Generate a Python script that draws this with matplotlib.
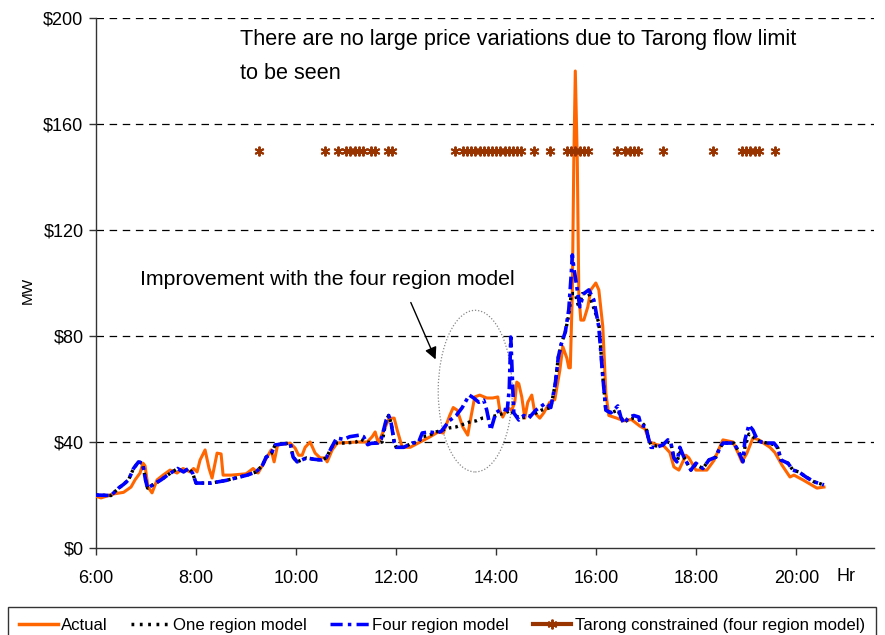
import matplotlib
matplotlib.use("Agg")
import matplotlib.pyplot as plt
from matplotlib.lines import Line2D
from matplotlib.patches import Ellipse

plt.rcParams['font.family'] = ['Liberation Sans', 'DejaVu Sans']

# ---- data (hours of day, $/MWh) ----
actual_t = [6.00, 6.10, 6.35, 6.55, 6.70, 6.78, 6.88, 6.94, 6.98, 7.04, 7.12, 7.22, 7.34, 7.48, 7.62,
            7.74, 7.88, 7.95, 8.02, 8.08, 8.18, 8.26, 8.32, 8.42, 8.50, 8.54, 8.70, 9.00, 9.14, 9.24,
            9.32, 9.50, 9.56, 9.63, 9.88, 9.98, 10.05, 10.12, 10.18, 10.28, 10.38, 10.48, 10.58, 10.62,
            10.72, 10.82, 11.22, 11.42, 11.52, 11.58, 11.64, 11.72, 11.86, 11.96, 12.02, 12.12, 12.28,
            12.48, 12.68, 12.84, 12.94, 13.07, 13.14, 13.22, 13.33, 13.43, 13.50, 13.57, 13.67, 13.81,
            13.93, 14.03, 14.07, 14.13, 14.22, 14.31, 14.37, 14.41, 14.45, 14.51, 14.57, 14.63, 14.71,
            14.77, 14.87, 14.95, 15.07, 15.17, 15.27, 15.33, 15.41, 15.45, 15.48, 15.52, 15.55, 15.58,
            15.62, 15.65, 15.69, 15.75, 15.83, 15.89, 15.99, 16.05, 16.13, 16.19, 16.25, 16.41, 16.55,
            16.70, 16.87, 16.97, 17.07, 17.20, 17.35, 17.47, 17.55, 17.65, 17.79, 17.85, 17.99, 18.21,
            18.35, 18.53, 18.73, 18.83, 18.91, 19.01, 19.13, 19.23, 19.47, 19.57, 19.71, 19.87, 19.95,
            20.13, 20.41, 20.55]
actual_v = [19.5, 18.9, 20.4, 21.0, 23.0, 25.7, 28.3, 32.0, 31.0, 23.0, 20.8, 25.7, 27.5, 29.4, 28.3,
            30.0, 28.7, 30.0, 28.7, 33.2, 37.0, 30.0, 26.4, 35.8, 35.5, 27.5, 27.5, 28.0, 30.0, 28.3,
            31.0, 37.0, 32.5, 38.9, 39.6, 37.7, 35.0, 35.0, 38.0, 40.0, 35.8, 34.0, 34.0, 32.5,
            37.0, 39.6, 40.0, 40.0, 42.0, 43.8, 39.6, 43.0, 49.0, 49.0, 44.5, 38.0, 38.0,
            40.0, 42.0, 43.8, 43.4, 50.0, 53.0, 52.0, 45.7, 42.6, 50.0, 57.0, 57.7, 56.6,
            56.6, 57.0, 52.0, 49.4, 53.0, 52.0, 55.0, 62.6, 62.0, 57.0, 49.0, 55.0, 57.7,
            51.0, 49.0, 51.0, 55.0, 56.0, 67.0, 76.0, 71.7, 68.0, 68.0, 96.0, 146.0, 180.0,
            146.0, 96.0, 86.0, 86.0, 91.0, 97.4, 100.0, 97.4, 83.4, 58.5, 50.0, 49.0, 48.0,
            48.5, 46.0, 45.0, 40.0, 39.0, 38.5, 36.0, 30.6, 29.4, 35.0, 34.0, 29.4, 29.4,
            33.0, 40.8, 40.0, 36.0, 32.5, 35.8, 41.5, 41.0, 38.0, 36.0, 31.3, 26.8, 27.5,
            25.7, 22.6, 23.0]

one_t = [6.00, 6.30, 6.45, 6.55, 6.65, 6.75, 6.85, 6.93, 6.99, 7.03, 7.15, 7.30, 7.43, 7.63, 7.75,
         7.85, 7.93, 8.00, 8.30, 8.60, 9.02, 9.20, 9.33, 9.40, 9.50, 9.58, 9.88, 9.94, 10.02, 10.21,
         10.35, 10.51, 10.60, 10.71, 10.80, 11.00, 11.20, 11.30, 11.40, 11.60, 11.72, 11.80, 11.85,
         11.90, 11.96, 12.00, 12.15, 12.32, 12.45, 12.52, 12.66, 12.80, 13.06, 13.20, 13.46, 13.60,
         13.72, 13.90, 14.00, 14.18, 14.30, 14.36, 14.50, 14.70, 14.90, 15.09, 15.18, 15.24, 15.30,
         15.38, 15.45, 15.50, 15.58, 15.65, 15.72, 15.85, 16.05, 16.13, 16.19, 16.29, 16.43, 16.49,
         16.55, 16.65, 16.75, 16.85, 16.99, 17.05, 17.09, 17.20, 17.33, 17.43, 17.49, 17.55, 17.61,
         17.67, 17.75, 17.89, 17.99, 18.13, 18.25, 18.39, 18.45, 18.53, 18.75, 18.85, 18.93, 18.97,
         19.05, 19.13, 19.19, 19.29, 19.43, 19.55, 19.63, 19.69, 19.83, 19.93, 20.05, 20.19, 20.35,
         20.55]
one_v = [20.0, 19.8, 22.6, 24.0, 25.7, 30.0, 32.5, 32.0, 25.7, 22.6, 24.0, 25.7, 27.5, 30.0, 28.7,
         30.0, 28.3, 24.5, 24.5, 25.5, 27.5, 28.7, 31.3, 34.3, 35.5, 38.9, 39.6, 34.3, 32.5, 34.0,
         33.5, 33.2, 34.0, 38.0, 39.6, 39.6, 40.0, 41.0, 40.0, 39.6, 40.0, 48.3, 50.0,
         47.0, 40.0, 38.0, 38.0, 39.6, 40.0, 42.0, 42.5, 43.8, 45.3, 45.7, 47.5, 48.0,
         49.0, 49.4, 50.0, 51.0, 52.0, 50.0, 49.0, 50.0, 52.0, 53.0, 62.0, 72.0, 77.0,
         81.5, 88.0, 96.0, 96.0, 90.6, 96.0, 96.0, 85.0, 64.5, 52.0, 51.0, 52.0, 49.4,
         47.5, 48.5, 49.0, 48.5, 45.7, 40.8, 39.0, 38.5, 38.9, 40.0, 39.6, 34.0, 32.5,
         36.0, 34.3, 29.4, 31.5, 30.0, 33.2, 34.3, 37.0, 39.6, 39.6, 36.2, 33.0, 38.0,
         43.0, 42.0, 41.0, 40.0, 39.6, 39.0, 37.7, 33.2, 32.0, 29.4, 28.7, 26.8, 25.0,
         23.8]

four_t = [6.00, 6.30, 6.45, 6.55, 6.65, 6.75, 6.85, 6.93, 6.99, 7.03, 7.15, 7.30, 7.43, 7.63, 7.75,
          7.85, 7.93, 8.00, 8.30, 8.60, 9.02, 9.20, 9.33, 9.40, 9.50, 9.58, 9.88, 9.94, 10.02, 10.21,
          10.35, 10.51, 10.60, 10.71, 10.81, 10.95, 11.07, 11.27, 11.35, 11.43, 11.50, 11.63, 11.70,
          11.80, 11.85, 11.90, 11.96, 12.00, 12.15, 12.32, 12.45, 12.52, 12.66, 12.80, 12.90, 13.02,
          13.06, 13.20, 13.32, 13.46, 13.55, 13.65, 13.75, 13.81, 13.89, 13.99, 14.11, 14.22, 14.26,
          14.29, 14.31, 14.35, 14.45, 14.55, 14.65, 14.79, 14.99, 15.09, 15.18, 15.24, 15.30, 15.38,
          15.45, 15.50, 15.52, 15.55, 15.63, 15.67, 15.75, 15.85, 15.95, 16.05, 16.13, 16.19, 16.29,
          16.43, 16.49, 16.55, 16.65, 16.75, 16.85, 16.89, 16.99, 17.05, 17.09, 17.20, 17.33, 17.43,
          17.49, 17.55, 17.61, 17.67, 17.75, 17.89, 17.99, 18.13, 18.25, 18.39, 18.45, 18.53, 18.75,
          18.85, 18.93, 18.97, 19.05, 19.13, 19.19, 19.29, 19.43, 19.55, 19.63, 19.69, 19.83, 19.93,
          20.05, 20.19, 20.35, 20.55]
four_v = [20.0, 19.8, 22.6, 24.0, 25.7, 30.0, 32.5, 32.0, 25.7, 22.6, 24.0, 25.7, 27.5, 30.0, 28.7,
          30.0, 28.3, 24.5, 24.5, 25.5, 27.5, 28.7, 31.3, 34.3, 35.5, 38.9, 39.6, 34.3, 32.5, 34.0,
          33.5, 33.2, 34.0, 38.0, 41.5, 41.0, 42.0, 42.6, 42.0, 39.0, 39.5, 39.6, 41.0,
          48.3, 50.0, 47.0, 40.0, 38.0, 38.0, 39.6, 40.0, 43.4, 43.8, 43.4, 44.0, 47.0,
          48.0, 50.0, 53.0, 57.7, 56.6, 55.0, 55.8, 52.0, 44.5, 51.0, 52.5, 52.0, 60.0,
          79.6, 70.0, 51.0, 48.3, 50.0, 49.0, 52.0, 54.7, 53.0, 62.0, 72.0, 77.0, 81.5,
          90.0, 103.8, 110.6, 106.0, 96.0, 91.0, 96.0, 97.4, 93.6, 83.4, 64.5, 52.0, 51.0,
          53.6, 49.4, 47.0, 49.4, 50.0, 49.4, 46.4, 45.7, 40.8, 38.0, 38.0, 38.9, 40.8,
          39.6, 34.0, 32.5, 38.0, 34.3, 29.4, 32.0, 30.0, 33.2, 34.3, 37.0, 39.6, 39.6,
          36.2, 32.5, 40.8, 46.4, 44.5, 42.0, 40.0, 39.6, 39.6, 37.7, 33.2, 32.0, 29.4,
          28.7, 26.8, 25.0, 23.8]

tarong_t = [9.25, 10.58, 10.83, 11.00, 11.08, 11.17, 11.25, 11.33, 11.50, 11.58, 11.83, 11.92,
            13.17, 13.33, 13.42, 13.50, 13.58, 13.67, 13.75, 13.83, 13.92, 14.00, 14.08, 14.17,
            14.25, 14.33, 14.42, 14.50, 14.75, 15.08, 15.42, 15.50, 15.58, 15.67, 15.75, 15.83,
            16.42, 16.58, 16.67, 16.75, 16.83, 17.33, 18.33, 18.92, 19.00, 19.08, 19.17, 19.25,
            19.58]
tarong_v = [150] * len(tarong_t)

yticks = [0, 40, 80, 120, 160, 200]
ytick_labels = ['$0', '$40', '$80', '$120', '$160', '$200']
xticks = [6, 8, 10, 12, 14, 16, 18, 20]
xtick_labels = ['6:00', '8:00', '10:00', '12:00', '14:00', '16:00', '18:00', '20:00']

title_text = "There are no large price variations due to Tarong flow limit\nto be seen"
note_text = "Improvement with the four region model"

ORANGE = '#FF6600'
BLUE = '#0000FF'
BROWN = '#993300'

fig = plt.figure(figsize=(8.85, 6.35), dpi=100)
ax = fig.add_axes([96/885, 87/635, 778/885, 530/635])

ax.set_xlim(6, 21.55)
ax.set_ylim(0, 200)

for y in yticks[1:]:
    ax.axhline(y, color='black', lw=0.9, dashes=(6, 4.5), zorder=1)

ax.plot(actual_t, actual_v, color=ORANGE, lw=2.2, zorder=3, solid_joinstyle='round')
ax.plot(one_t, one_v, color='black', lw=2.4, linestyle=(0, (0.8, 1.2)), zorder=4)
ax.plot(four_t, four_v, color=BLUE, lw=2.6, linestyle=(0, (3.5, 1.2, 1.0, 1.2)), zorder=5)
ax.plot(tarong_t, tarong_v, linestyle='none', marker=(6, 2, 0), ms=7, mew=1.4, color=BROWN, zorder=6)

ax.set_yticks(yticks)
ax.set_yticklabels(ytick_labels)
ax.set_xticks(xticks)
ax.set_xticklabels(xtick_labels)
ax.tick_params(axis='both', direction='out', length=5, width=1, colors='#333333',
               labelcolor='black', labelsize=13, pad=4)
ax.tick_params(axis='x', pad=11)
for s in ['top', 'right']:
    ax.spines[s].set_visible(False)
for s in ['left', 'bottom']:
    ax.spines[s].set_color('#333333')
    ax.spines[s].set_linewidth(1)

ax.text(21.0, -7.5, 'Hr', fontsize=13, ha='center', va='top', clip_on=False)

fig.text(28/885, 1 - 290/635, 'MW', rotation=90, fontsize=11, ha='center', va='center')

ax.text(8.88, 196, title_text, fontsize=15.6, ha='left', va='top', linespacing=1.85)
ax.text(6.88, 101.5, note_text, fontsize=15.3, ha='left', va='center')

ell = Ellipse((13.58, 59.2), 1.48, 61, fill=False, edgecolor='#888888', lw=0.9,
              linestyle=(0, (1, 1.5)), zorder=2)
ax.add_patch(ell)
ax.annotate('', xy=(12.81, 70.2), xytext=(12.27, 93.6),
            arrowprops=dict(arrowstyle='-|>', color='black', lw=1, mutation_scale=18))

handles = [
    Line2D([], [], color=ORANGE, lw=2.5),
    Line2D([], [], color='black', lw=2.5, linestyle=(0, (0.8, 1.6))),
    Line2D([], [], color=BLUE, lw=2.5, linestyle=(0, (3.5, 1.5, 1.0, 1.5))),
    Line2D([], [], color=BROWN, lw=3, marker=(6, 2, 0), ms=7, mew=1.4),
]
labels = ['Actual', 'One region model', 'Four region model', 'Tarong constrained (four region model)']
leg = fig.legend(handles, labels, loc='upper left', bbox_to_anchor=(8/885, 1 - 607/635),
                 ncol=4, frameon=True, fancybox=False, edgecolor='black', fontsize=12.1,
                 handlelength=2.3, handletextpad=0.2, columnspacing=1.4, borderpad=0.65,
                 borderaxespad=0)
leg.get_frame().set_linewidth(1)

fig.savefig('out.png', dpi=100)
